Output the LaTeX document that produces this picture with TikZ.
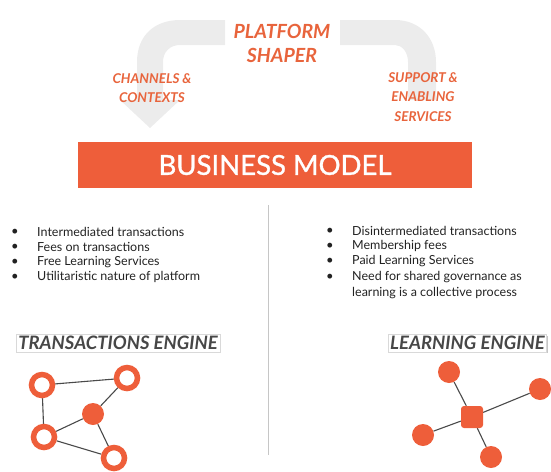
\documentclass[tikz,border=0pt]{standalone}
\usepackage{fontspec}
\setmainfont{Lato}[BoldFont=* Bold, BoldItalicFont=* Bold Italic]
\newfontfamily\latomed{Lato}[FakeBold=1.2]
\usetikzlibrary{shadows,backgrounds}
\definecolor{org}{HTML}{EE5E3A}
\definecolor{orgtxt}{HTML}{E8643C}
\definecolor{arrowgray}{HTML}{ECECEC}
\definecolor{edgegray}{HTML}{4A4A4A}
\definecolor{txt}{HTML}{222222}
\begin{document}
\begin{tikzpicture}[x=1pt,y=-1pt,
  ring/.style={circle,draw=org,line width=5.5pt,fill=white,minimum size=21pt,inner sep=0pt},
  dot/.style={circle,fill=org,minimum size=22pt,inner sep=0pt},
  sq/.style={rectangle,rounded corners=3pt,fill=org,minimum size=22pt,inner sep=0pt},
  edge/.style={draw=edgegray,line width=1.1pt},
  otitle/.style={text=orgtxt,font=\bfseries\itshape\fontsize{19.5}{24}\selectfont,align=center},
  olabel/.style={text=orgtxt,font=\bfseries\itshape\fontsize{13.5}{19.5}\selectfont,align=center},
  bul/.style={anchor=center,text=txt,font=\fontsize{13}{14}\selectfont,inner sep=0pt},
  item/.style={anchor=west,text=txt,font=\fontsize{12.5}{14}\selectfont,inner sep=0pt},
  engine/.style={draw=gray!30,fill=white,inner xsep=2pt,inner ysep=2pt,
     drop shadow={opacity=0.45,shadow xshift=1pt,shadow yshift=-1.5pt},
     text=black!72,font=\bfseries\itshape\fontsize{18.5}{20}\selectfont}
]
\useasboundingbox (0,0) rectangle (551,471);
% gray arch arrow
\fill[arrowgray] (137,100) -- (137,62) .. controls (137,35) and (155,20) .. (180,20)
  -- (225,20) -- (225,45) -- (180,45) .. controls (170,45) and (163,52) .. (163,62)
  -- (163,100) -- (180,100) -- (150,128) -- (120,100) -- cycle;
\fill[arrowgray] (340,20) -- (395,20) .. controls (420,20) and (436,38) .. (436,62)
  -- (436,100) -- (408,100) -- (408,62) .. controls (408,52) and (402,45) .. (395,45)
  -- (340,45) -- cycle;
% top labels
\node[otitle] (shaper) at (282,43) {PLATFORM\\SHAPER};
\node[olabel] (channels) at (152,88) {CHANNELS \&\\CONTEXTS};
\node[olabel] (support) at (423,97) {SUPPORT \&\\ENABLING\\SERVICES};
% business model bar
\node[fill=org,minimum width=394pt,minimum height=46pt,inner sep=0pt,text=white,
  font=\latomed\fontsize{27.5}{30}\selectfont] (bm) at (275,165) {BUSINESS MODEL};
% divider
\coordinate (dtop) at (268,205);
\coordinate (dbot) at (268,455);
\draw[gray!45,line width=0.9pt] (dtop) -- (dbot);
% left bullets
\foreach \y/\t [count=\i] in {232/Intermediated transactions,247/Fees on transactions,262/Free Learning Services,277/Utilitaristic nature of platform}{
  \node[bul] (lb\i) at (15,\y) {•};
  \node[item] (lt\i) at (37,\y) {\t};
}
% right bullets
\foreach \y/\t [count=\i] in {231/Disintermediated transactions,246/Membership fees,261/Paid Learning Services,277/Need for shared governance as}{
  \node[bul] (rb\i) at (330,\y) {•};
  \node[item] (rt\i) at (352,\y) {\t};
}
\node[item] (rt5) at (352,293) {learning is a collective process};
% engine titles
\node[engine] (te) at (118,343) {TRANSACTIONS ENGINE};
\node[engine,anchor=west] (le) at (388,343) {LEARNING ENGINE};
% transactions graph
\node[ring] (a) at (42,385) {};
\node[ring] (b) at (127,378) {};
\node[dot]  (c) at (93,414) {};
\node[ring] (d) at (44,437) {};
\node[ring] (e) at (114,458) {};
% learning graph
\node[sq]  (s) at (472,417) {};
\node[dot] (l1) at (449,372) {};
\node[dot] (l2) at (540,389) {};
\node[dot] (l3) at (423,435) {};
\node[dot] (l4) at (491,457) {};
\begin{scope}[on background layer]
\draw[edge] (a) -- (b);
\draw[edge] (a) -- (d);
\draw[edge] (b) -- (c);
\draw[edge] (c) -- (d);
\draw[edge] (c) -- (e);
\draw[edge] (d) -- (e);
\draw[edge] (s) -- (l1);
\draw[edge] (s) -- (l2);
\draw[edge] (s) -- (l3);
\draw[edge] (s) -- (l4);
\end{scope}
\end{tikzpicture}
\end{document}
